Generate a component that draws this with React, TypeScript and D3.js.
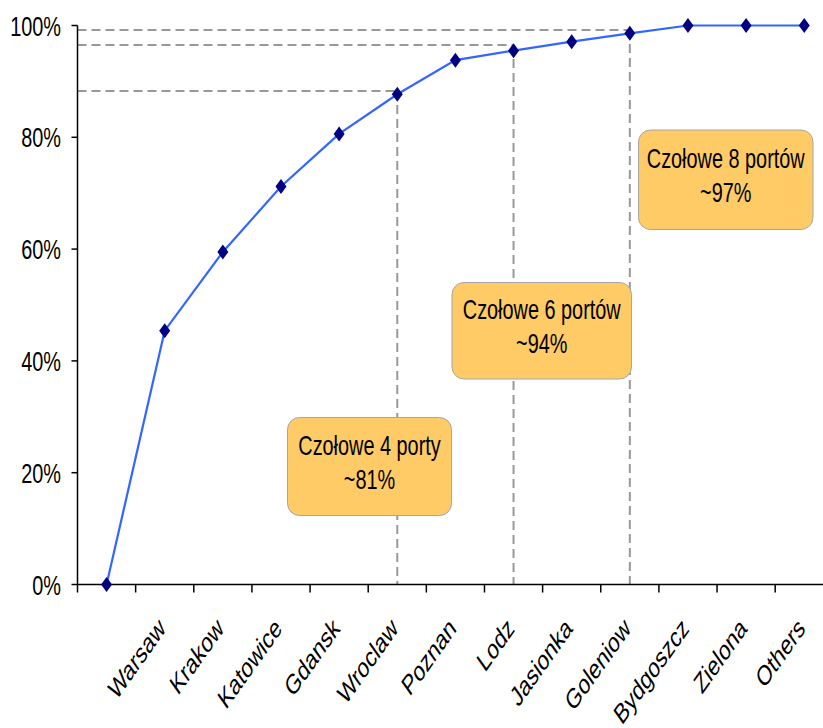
import React from "react";
import * as d3 from "d3";

// Cumulative share of passenger traffic by airport (Pareto curve)
const categories = ["", "Warsaw", "Krakow", "Katowice", "Gdansk", "Wroclaw", "Poznan", "Lodz", "Jasionka", "Goleniow", "Bydgoszcz", "Zielona", "Others"];
const cumulativeShare = [0, 45.4, 59.5, 71.2, 80.6, 87.7, 93.8, 95.5, 97.1, 98.6, 100, 100, 100];
const yTicks = [0, 20, 40, 60, 80, 100];

// Guide lines: category they drop to and the level they are drawn at
const guideCategories = ["Wroclaw", "Lodz", "Goleniow"];
const guideLevels = [88.3, 96.5, 99.2];

// Callout boxes
const calloutTitles = ["Czołowe 4 porty", "Czołowe 6 portów", "Czołowe 8 portów"];
const calloutValues = ["~81%", "~94%", "~97%"];

const W = 823;
const H = 728;
const FONT = "'Liberation Sans', Arial, sans-serif";
const SX = 0.71; // narrow text face
const FS = 28;

const x = d3.scaleBand<string>().domain(categories.map((c, i) => `${i}`)).range([77.5, 77.5 + 13 * 58.14]);
const y = d3.scaleLinear().domain([0, 100]).range([584.5, 25.5]);
const cx = (i: number) => (x(`${i}`) as number) + x.bandwidth() / 2;

const calloutBoxes = [
  { x0: 287.5, x1: 451.5, y0: 417.5, y1: 515.5 },
  { x0: 452, x1: 631.5, y0: 282.5, y1: 379 },
  { x0: 638.5, x1: 813, y0: 130, y1: 229.5 },
];

function NarrowText(props: { x: number; y: number; anchor: string; size: number; rotate?: number; children: React.ReactNode }) {
  const { x: tx, y: ty, anchor, size, rotate = 0, children } = props;
  return (
    <g transform={`translate(${tx},${ty}) scale(${SX},1) rotate(${rotate})`}>
      <text textAnchor={anchor} fontFamily={FONT} fontSize={size} fill="#000">
        {children}
      </text>
    </g>
  );
}

export default function App() {
  const line = d3
    .line<number>()
    .x((_, i) => cx(i))
    .y((d) => y(d));

  const xTickPositions = d3.range(0, 13).map((i) => x(`${i}`) as number);
  const x0 = x.range()[0];

  return (
    <svg width={W} height={H} style={{ position: "absolute", left: 0, top: 0, background: "#fff" }}>
      {/* guide lines */}
      {guideCategories.map((c, k) => {
        const i = categories.indexOf(c);
        const gy = y(guideLevels[k]);
        return (
          <g key={c} stroke="#999" strokeWidth={2} strokeDasharray="9,5" fill="none">
            <line x1={x0} x2={cx(i)} y1={gy} y2={gy} />
            <line x1={cx(i)} x2={cx(i)} y1={gy} y2={y(0)} />
          </g>
        );
      })}

      {/* callouts */}
      {calloutBoxes.map((b, k) => {
        const mx = (b.x0 + b.x1) / 2;
        const my = (b.y0 + b.y1) / 2;
        return (
          <g key={k}>
            <rect x={b.x0} y={b.y0} width={b.x1 - b.x0} height={b.y1 - b.y0} rx={12} ry={12} fill="#FECB66" stroke="#A6A6A6" strokeWidth={1} />
            <NarrowText x={mx} y={my - 12} anchor="middle" size={FS}>
              {calloutTitles[k]}
            </NarrowText>
            <NarrowText x={mx} y={my + 22} anchor="middle" size={FS}>
              {calloutValues[k]}
            </NarrowText>
          </g>
        );
      })}

      {/* axes */}
      <g stroke="#000" strokeWidth={1.5}>
        <line x1={x0} x2={x0} y1={y(100)} y2={y(0)} />
        <line x1={x0} x2={W} y1={y(0)} y2={y(0)} />
        {yTicks.map((t) => (
          <line key={t} x1={x0 - 6} x2={x0} y1={y(t)} y2={y(t)} />
        ))}
        {xTickPositions.map((px, i) => (
          <line key={i} x1={px} x2={px} y1={y(0)} y2={y(0) + 8} />
        ))}
      </g>
      {yTicks.map((t) => (
        <NarrowText key={t} x={61} y={y(t) + 10} anchor="end" size={FS}>
          {`${t}%`}
        </NarrowText>
      ))}
      {categories.map((c, i) =>
        c ? (
          <NarrowText key={c} x={cx(i) + 2} y={630} anchor="end" size={FS} rotate={-45}>
            {c}
          </NarrowText>
        ) : null
      )}

      {/* cumulative curve */}
      <path d={line(cumulativeShare) || ""} fill="none" stroke="#3366FF" strokeWidth={2.2} />
      {cumulativeShare.map((v, i) => (
        <path
          key={i}
          d="M0,-7.5L5.5,0L0,7.5L-5.5,0Z"
          transform={`translate(${cx(i)},${y(v)})`}
          fill="#000080"
        />
      ))}
    </svg>
  );
}
